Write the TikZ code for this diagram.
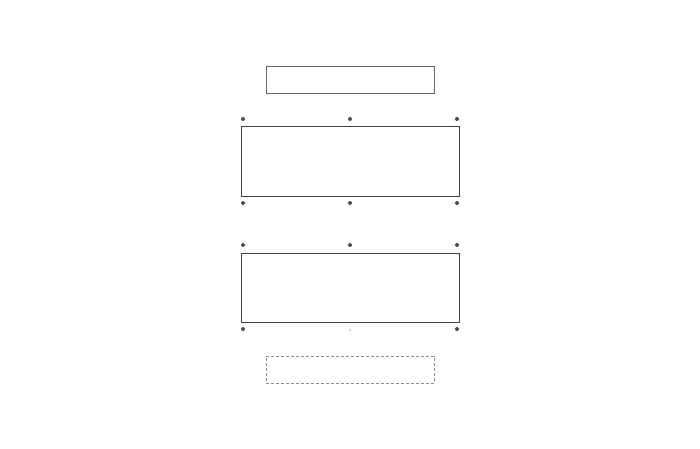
\documentclass[tikz,border=0pt]{standalone}
\begin{document}
\begin{tikzpicture}[x=1pt,y=-1pt]
\tikzstyle{slab}= [rectangle,draw=black!75,line width=0.8pt,inner sep=0pt,minimum width=218pt,minimum height=70pt]
\tikzstyle{capbox}= [rectangle,draw=black!60,line width=0.8pt,inner sep=0pt,minimum width=168pt,minimum height=27pt]
\tikzstyle{pin}= [circle,fill=black!70,inner sep=0pt,minimum size=4pt]
\useasboundingbox (0,0) rectangle (700,448);
\path
	(350, 79.5) node[capbox] (top) {}
	(350,161)   node[slab] (upper) {}
	(350,287.5) node[slab,minimum height=69pt] (lower) {}
	(350,369.5) node[capbox,draw=black!45,densely dashed] (bottom) {}
;
% pins round the upper slab
\path
	(243,119) node[pin] (ua) {}
	(350,119) node[pin] (ub) {}
	(457,119) node[pin] (uc) {}
	(243,203) node[pin] (ud) {}
	(350,203) node[pin] (ue) {}
	(457,203) node[pin] (uf) {}
;
% pins round the lower slab
\path
	(243,245) node[pin] (la) {}
	(350,245) node[pin] (lb) {}
	(457,245) node[pin] (lc) {}
	(243,329) node[pin] (ld) {}
	(350,330) node[pin,fill=black!25,minimum size=2pt] (le) {}
	(457,329) node[pin] (lf) {}
;
\end{tikzpicture}
\end{document}
